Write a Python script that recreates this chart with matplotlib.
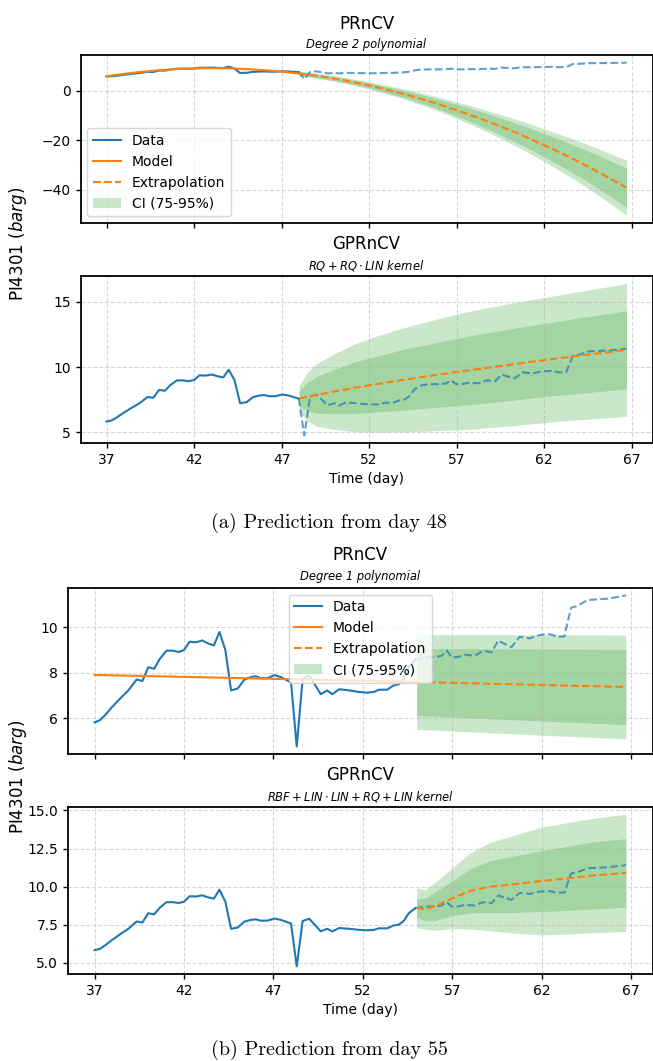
import matplotlib
matplotlib.use("Agg")
import matplotlib.pyplot as plt
import numpy as np

days = [37.00, 37.31, 37.59, 37.96, 38.43, 38.89, 39.35, 39.67, 40.00, 40.33,
        40.65, 41.02, 41.39, 41.70, 42.00, 42.31, 42.69, 43.02, 43.33, 43.67,
        43.98, 44.31, 44.63, 45.00, 45.37, 45.74, 46.02, 46.30, 46.67, 47.04,
        47.41, 47.78, 47.98, 48.30, 48.63, 49.00, 49.64, 50.00, 50.29, 50.67,
        51.22, 51.78, 52.24, 52.61, 52.89, 53.35, 53.72, 54.00, 54.28, 54.56,
        54.93, 55.48, 56.04, 56.41, 56.69, 56.96, 57.33, 57.70, 58.26, 58.72,
        59.19, 59.56, 60.30, 60.76, 61.32, 61.87, 62.42, 62.89, 63.26, 63.63,
        64.00, 64.56, 65.67, 66.50, 66.70]
pressure = [5.82, 5.92, 6.14, 6.48, 6.87, 7.23, 7.71, 7.64, 8.25, 8.18,
            8.62, 8.98, 8.98, 8.92, 9.01, 9.37, 9.35, 9.43, 9.30, 9.21,
            9.80, 9.01, 7.23, 7.31, 7.70, 7.82, 7.85, 7.76, 7.77, 7.90,
            7.82, 7.66, 7.58, 4.76, 7.74, 7.89, 7.06, 7.23, 7.06, 7.28,
            7.23, 7.16, 7.13, 7.16, 7.26, 7.26, 7.45, 7.50, 7.74, 8.25,
            8.59, 8.69, 8.69, 8.76, 8.98, 8.69, 8.70, 8.80, 8.76, 8.98,
            8.91, 9.42, 9.13, 9.59, 9.52, 9.67, 9.71, 9.59, 9.61, 10.87,
            10.95, 11.21, 11.27, 11.38, 11.42]

# (a) degree 2 polynomial, prediction from day 48
poly2_days = [37, 38, 39, 40, 41, 42, 43, 44, 45, 46, 47, 48]
poly2_fit = [5.9, 6.9, 7.7, 8.3, 8.8, 9.1, 9.2, 9.1, 8.8, 8.4, 7.8, 7.0]
poly2_ext_days = [48, 49, 50, 51, 52, 53, 54, 55, 56, 57, 58, 59, 60, 61, 62,
                  63, 64, 65, 66, 66.7]
poly2_ext = [7.0, 6.1, 5.0, 3.7, 2.2, 0.5, -1.3, -3.3, -5.5, -7.8, -10.3, -13.0,
             -15.8, -18.8, -22.0, -25.3, -28.8, -32.5, -36.4, -39.2]
poly2_ci95 = [1.0, 1.05, 1.1, 1.25, 1.45, 1.7, 2.0, 2.4, 2.85, 3.35, 3.9, 4.5,
              5.15, 5.85, 6.6, 7.45, 8.35, 9.3, 10.35, 11.2]
poly2_ci75 = [0.7, 0.75, 0.8, 0.9, 1.0, 1.2, 1.4, 1.7, 2.0, 2.35, 2.75, 3.2,
              3.65, 4.15, 4.7, 5.3, 5.9, 6.6, 7.35, 8.0]

# (a) GP, prediction from day 48
gp48_days = [48, 48.5, 49, 50, 51, 52, 53, 54, 55, 56, 57, 58, 59, 60, 61, 62,
             63, 64, 65, 66, 66.7]
gp48_mean = [7.6, 7.74, 7.87, 8.12, 8.37, 8.6, 8.82, 9.03, 9.23, 9.43, 9.62,
             9.81, 9.99, 10.17, 10.36, 10.54, 10.71, 10.88, 11.04, 11.2, 11.33]
gp48_ci95 = [1.0, 1.9, 2.4, 2.9, 3.3, 3.6, 3.8, 4.0, 4.15, 4.3, 4.45, 4.55,
             4.62, 4.7, 4.75, 4.8, 4.85, 4.92, 4.98, 5.05, 5.1]
gp48_ci75 = [0.6, 1.1, 1.4, 1.7, 1.95, 2.1, 2.2, 2.35, 2.42, 2.5, 2.58, 2.65,
             2.7, 2.75, 2.78, 2.8, 2.85, 2.9, 2.93, 2.97, 3.0]

# (b) degree 1 polynomial, prediction from day 55
poly1_days = [37, 55]
poly1_fit = [7.91, 7.60]
poly1_ext_days = [55, 66.7]
poly1_ext = [7.60, 7.38]
poly1_ci95 = [2.09, 2.29]
poly1_ci75 = [1.48, 1.66]

# (b) GP, prediction from day 55
gp55_days = [55.0, 55.5, 56.1, 57.0, 58.0, 59.1, 60.4, 62.0, 63.3, 64.8, 66.7]
gp55_mean = [8.6, 8.5, 8.74, 9.24, 9.72, 10.0, 10.15, 10.37, 10.52, 10.73, 10.9]
gp55_ci95 = [1.3, 1.3, 1.6, 2.0, 2.5, 2.9, 3.2, 3.55, 3.65, 3.75, 3.85]
gp55_ci75 = [0.6, 0.75, 0.95, 1.15, 1.45, 1.7, 1.85, 2.0, 2.1, 2.2, 2.25]

x_ticks = [37, 42, 47, 52, 57, 62, 67]

plt.rcParams["axes.linewidth"] = 1.3
plt.rcParams["xtick.labelsize"] = 10
plt.rcParams["ytick.labelsize"] = 10

W, H = 653, 1061
fig = plt.figure(figsize=(W / 100, H / 100), dpi=100)


def add_axes(left, right, top, bottom):
    return fig.add_axes([left / W, 1 - bottom / H, (right - left) / W, (bottom - top) / H])


def put_text(x, y, s, **kw):
    fig.text(x / W, 1 - y / H, s, ha="center", va="baseline", **kw)


def draw_panel(ax, split, fit_days, fit_vals, ext_days, ext_vals, ci95, ci75):
    d = np.array(days)
    p = np.array(pressure)
    i = int(np.searchsorted(d, split, side="right")) - 1
    ax.plot(d[:i + 1], p[:i + 1], color="C0", lw=1.5, label="Data")
    ax.plot(d[i:], p[i:], color="C0", lw=1.5, ls="--", alpha=0.7)
    if fit_days is not None:
        ax.plot(fit_days, fit_vals, color="C1", lw=1.5, label="Model")
    ext = np.array(ext_vals)
    ax.plot(ext_days, ext, color="C1", lw=1.5, ls="--", label="Extrapolation")
    ax.fill_between(ext_days, ext - np.array(ci95), ext + np.array(ci95),
                    color="C2", alpha=0.25, lw=0, label="CI (75-95%)")
    ax.fill_between(ext_days, ext - np.array(ci75), ext + np.array(ci75),
                    color="C2", alpha=0.25, lw=0)
    ax.set_xticks(x_ticks)
    ax.grid(True, ls="--", alpha=0.5)
    ax.tick_params(width=1.0)


# ---- (a) prediction from day 48
ax1 = add_axes(80.5, 652.5, 55, 223)
draw_panel(ax1, 48.0, poly2_days, poly2_fit, poly2_ext_days, poly2_ext, poly2_ci95, poly2_ci75)
ax1.set_xticklabels([])
ax1.legend(loc="lower left", fontsize=10)

ax2 = add_axes(80.5, 652.5, 275.7, 443)
draw_panel(ax2, 48.0, None, None, gp48_days, gp48_mean, gp48_ci95, gp48_ci75)
ax2.set_yticks([5, 10, 15])
ax2.set_xlabel("Time (day)", fontsize=10)

# ---- (b) prediction from day 55
ax3 = add_axes(68, 652.5, 587.7, 754)
draw_panel(ax3, 55.0, poly1_days, poly1_fit, poly1_ext_days, poly1_ext, poly1_ci95, poly1_ci75)
ax3.set_xticklabels([])
ax3.set_yticks([6, 8, 10])
ax3.legend(loc="upper center", fontsize=10)

ax4 = add_axes(68, 652.5, 806.7, 974)
draw_panel(ax4, 55.0, None, None, gp55_days, gp55_mean, gp55_ci95, gp55_ci75)
ax4.set_yticks([5.0, 7.5, 10.0, 12.5, 15.0])
ax4.set_xlabel("Time (day)", fontsize=10)

# titles and subtitles
put_text(366.5, 29.3, "PRnCV", fontsize=12)
put_text(366.5, 48.3, "Degree 2 polynomial", fontsize=8.3, style="italic")
put_text(366.5, 249, "GPRnCV", fontsize=12)
put_text(366.5, 269.3, r"$RQ + RQ \cdot LIN$ kernel", fontsize=8.3, style="italic")
put_text(360.3, 560, "PRnCV", fontsize=12)
put_text(360.3, 580, "Degree 1 polynomial", fontsize=8.3, style="italic")
put_text(360.3, 780, "GPRnCV", fontsize=12)
put_text(360.3, 800, r"$RBF + LIN \cdot LIN + RQ + LIN$ kernel", fontsize=8.3, style="italic")

# shared y labels
fig.text(18.5 / W, 1 - 244 / H, "PI4301 ($barg$)", rotation=90, ha="center", va="center", fontsize=12)
fig.text(18.5 / W, 1 - 776.5 / H, "PI4301 ($barg$)", rotation=90, ha="center", va="center", fontsize=12)

# subfigure captions
put_text(329, 527.7, "(a) Prediction from day 48", family="cmr10", fontsize=14.5)
put_text(329, 1055, "(b) Prediction from day 55", family="cmr10", fontsize=14.5)

fig.savefig("out.png", dpi=100)
